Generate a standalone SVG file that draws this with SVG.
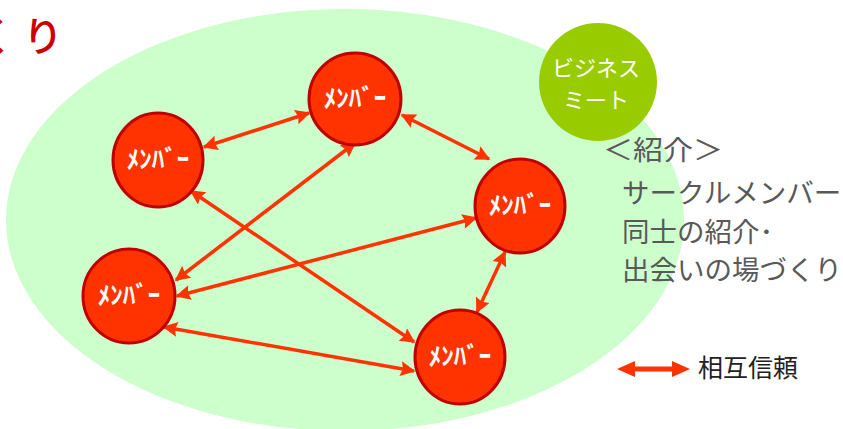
<svg xmlns="http://www.w3.org/2000/svg" width="843" height="429" viewBox="0 0 843 429">
<style>
.node{fill:#FF3300;stroke:#C00000;stroke-width:3}
.nt{font-family:"Noto Sans CJK JP","Noto Sans",sans-serif;font-size:25px;font-weight:bold;fill:#fff;text-anchor:middle}
.con{stroke:#FF3300;stroke-width:3.5;fill:none;marker-start:url(#ah);marker-end:url(#ah)}
.lst{font-family:"Noto Sans CJK JP",sans-serif;font-size:27.5px;fill:#595959}
</style>
<defs>
<marker id="ah" viewBox="0 0 10 10" refX="9" refY="5" markerWidth="18" markerHeight="15" markerUnits="userSpaceOnUse" orient="auto-start-reverse">
<path d="M0,0 L10,5 L0,10 L1.5,5 z" fill="#FF3300"/>
</marker>
</defs>
<rect width="843" height="429" fill="#fff"/>
<ellipse cx="345" cy="220" rx="339" ry="211" fill="#CCFFCC"/>
<text x="-26 23" y="51" font-family="Noto Sans CJK JP,sans-serif" font-size="40" font-weight="500" fill="#CC0000">くり</text>
<g id="connectors">
<line class="con" x1="204" y1="147" x2="309" y2="113"/>
<line class="con" x1="402" y1="115" x2="489" y2="159"/>
<line class="con" x1="355" y1="143" x2="176" y2="280"/>
<line class="con" x1="191" y1="191" x2="414" y2="342"/>
<line class="con" x1="476" y1="218" x2="177" y2="296"/>
<line class="con" x1="505" y1="252" x2="477" y2="312"/>
<line class="con" x1="164" y1="327" x2="414" y2="371"/>
</g>
<g id="n1"><ellipse class="node" cx="355" cy="99" rx="46" ry="46"/><text class="nt" x="355" y="107">ﾒﾝﾊﾞｰ</text></g>
<g id="n2"><ellipse class="node" cx="158" cy="160" rx="45" ry="47"/><text class="nt" x="158" y="168">ﾒﾝﾊﾞｰ</text></g>
<g id="n3"><ellipse class="node" cx="520" cy="206" rx="45" ry="47"/><text class="nt" x="520" y="214">ﾒﾝﾊﾞｰ</text></g>
<g id="n4"><ellipse class="node" cx="129" cy="296" rx="46" ry="47"/><text class="nt" x="129" y="304">ﾒﾝﾊﾞｰ</text></g>
<g id="n5"><ellipse class="node" cx="460" cy="357" rx="45" ry="47"/><text class="nt" x="460" y="365">ﾒﾝﾊﾞｰ</text></g>
<g id="biz"><ellipse cx="598" cy="82" rx="59" ry="59" fill="#99CC00"/>
<text x="596" y="76" text-anchor="middle" font-family="Noto Sans CJK JP,sans-serif" font-size="22" fill="#fff">ビジネス</text>
<text x="596" y="108" text-anchor="middle" font-family="Noto Sans CJK JP,sans-serif" font-size="22" fill="#fff">ミート</text></g>
<g id="intro">
<text class="lst" x="603" y="160" textLength="120" lengthAdjust="spacingAndGlyphs">＜紹介＞</text>
<text class="lst" x="622" y="203">サークルメンバー</text>
<text class="lst" x="622" y="242">同士の紹介･</text>
<text class="lst" x="622" y="280">出会いの場づくり</text>
</g>
<g id="legend">
<line x1="628" y1="369" x2="679" y2="369" stroke="#FF3300" stroke-width="5"/>
<path d="M617,369 L635,361 L635,377 z M690,369 L672,361 L672,377 z" fill="#FF3300"/>
<text x="698" y="377" font-family="Noto Sans CJK JP,sans-serif" font-size="25" fill="#222">相互信頼</text>
</g>
</svg>
